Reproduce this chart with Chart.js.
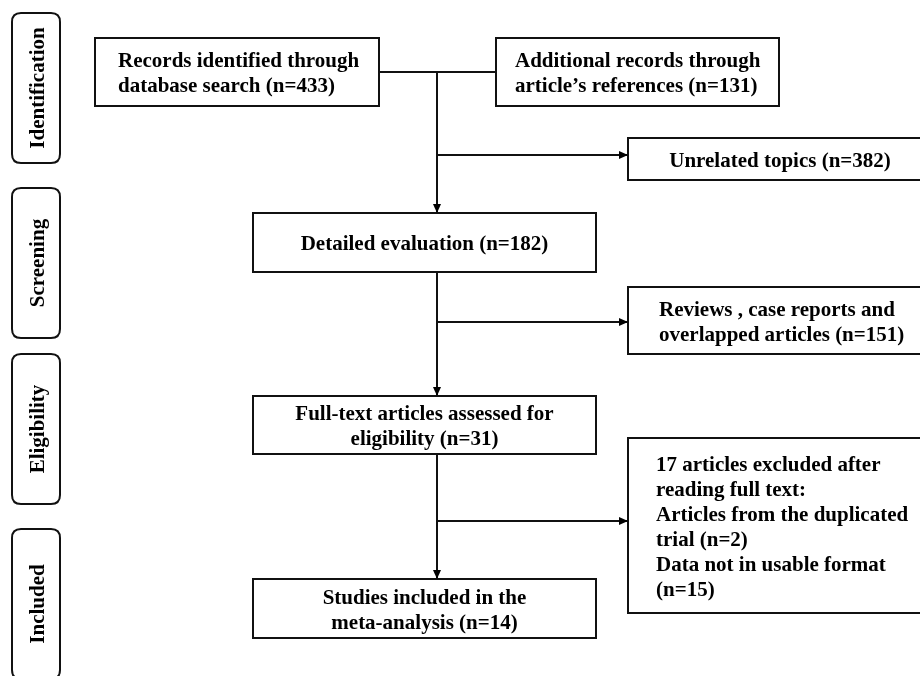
<!DOCTYPE html>
<html>
<head>
<meta charset="utf-8">
<title>Study selection flow</title>
<script src="https://cdn.jsdelivr.net/npm/chart.js@4"></script>
<style>
  html, body { margin: 0; padding: 0; background: #fff; }
  #flow { display: block; }
</style>
</head>
<body>
<canvas id="flow" width="920" height="676"></canvas>
<script>
// stage names down the left side
const stageLabels = ["Identification", "Screening", "Eligibility", "Included"];

// record counts shown in each box
const nodeKeys = ["database", "references", "unrelated", "screened", "reviews", "fullText", "excluded", "included"];
const nodeCounts = [433, 131, 382, 182, 151, 31, 17, 14];

// reasons for exclusion after full text
const exclusionReasons = ["Articles from the duplicated trial", "Data not in usable format"];
const exclusionCounts = [2, 15];

const count = (key) => nodeCounts[nodeKeys.indexOf(key)];

const nodeLines = {
  database: ["Records identified through", `database search (n=${count("database")})`],
  references: ["Additional records through", `article\u2019s references (n=${count("references")})`],
  unrelated: [`Unrelated topics (n=${count("unrelated")})`],
  screened: [`Detailed evaluation (n=${count("screened")})`],
  reviews: ["Reviews , case reports and", `overlapped articles (n=${count("reviews")})`],
  fullText: ["Full-text articles assessed for", `eligibility (n=${count("fullText")})`],
  excluded: [
    `${count("excluded")} articles excluded after`,
    "reading full text:",
    "Articles from the duplicated",
    `trial (n=${exclusionCounts[0]})`,
    "Data not in usable format",
    `(n=${exclusionCounts[1]})`
  ],
  included: ["Studies included in the", `meta-analysis (n=${count("included")})`]
};

// layout in chart units (x 0..920, y 0..676 top-down)
const boxLayout = {
  database:   { x0: 95,  y0: 38,  x1: 379, y1: 106, align: "left", tx: 118 },
  references: { x0: 496, y0: 38,  x1: 779, y1: 106, align: "left", tx: 515 },
  unrelated:  { x0: 628, y0: 138, x1: 940, y1: 180, align: "center", tx: 780 },
  screened:   { x0: 253, y0: 213, x1: 596, y1: 272, align: "center", tx: 424.5 },
  reviews:    { x0: 628, y0: 287, x1: 940, y1: 354, align: "left", tx: 659 },
  fullText:   { x0: 253, y0: 396, x1: 596, y1: 454, align: "center", tx: 424.5 },
  excluded:   { x0: 628, y0: 438, x1: 940, y1: 613, align: "left", tx: 656 },
  included:   { x0: 253, y0: 579, x1: 596, y1: 638, align: "center", tx: 424.5 }
};
const stageLayout = [
  { x0: 12, y0: 13,  x1: 60, y1: 163 },
  { x0: 12, y0: 188, x1: 60, y1: 338 },
  { x0: 12, y0: 354, x1: 60, y1: 504 },
  { x0: 12, y0: 529, x1: 60, y1: 679 }
];
const spineX = 437;
const branches = [
  { y: 155, to: "unrelated" },
  { y: 322, to: "reviews" },
  { y: 521, to: "excluded" }
];

const FONT = "bold 21px 'Liberation Serif', 'Times New Roman', serif";
const LINE_H = 25;
const INK = "#111";

function roundRect(ctx, x, y, w, h, r) {
  ctx.beginPath();
  ctx.moveTo(x + r, y);
  ctx.lineTo(x + w - r, y);
  ctx.quadraticCurveTo(x + w, y, x + w, y + r);
  ctx.lineTo(x + w, y + h - r);
  ctx.quadraticCurveTo(x + w, y + h, x + w - r, y + h);
  ctx.lineTo(x + r, y + h);
  ctx.quadraticCurveTo(x, y + h, x, y + h - r);
  ctx.lineTo(x, y + r);
  ctx.quadraticCurveTo(x, y, x + r, y);
  ctx.closePath();
}

const flowPlugin = {
  id: "flowDiagram",
  afterDraw(chart) {
    const ctx = chart.ctx;
    const sx = chart.scales.x, sy = chart.scales.y;
    const px = (v) => sx.getPixelForValue(v);
    const py = (v) => sy.getPixelForValue(v);

    ctx.save();
    ctx.strokeStyle = INK;
    ctx.fillStyle = "#000";
    ctx.lineWidth = 2;
    ctx.font = FONT;

    const line = (x0, y0, x1, y1) => {
      ctx.beginPath();
      ctx.moveTo(px(x0), py(y0));
      ctx.lineTo(px(x1), py(y1));
      ctx.stroke();
    };
    const arrowHead = (x, y, dir) => {
      const tx = px(x), ty = py(y);
      ctx.beginPath();
      if (dir === "down") {
        ctx.moveTo(tx, ty);
        ctx.lineTo(tx - 4, ty - 9);
        ctx.lineTo(tx + 4, ty - 9);
      } else {
        ctx.moveTo(tx, ty);
        ctx.lineTo(tx - 9, ty - 4);
        ctx.lineTo(tx - 9, ty + 4);
      }
      ctx.closePath();
      ctx.fill();
    };

    // stage labels
    stageLabels.forEach((label, i) => {
      const s = stageLayout[i];
      roundRect(ctx, px(s.x0), py(s.y0), px(s.x1) - px(s.x0), py(s.y1) - py(s.y0), 9);
      ctx.stroke();
      ctx.save();
      ctx.translate(px(44), py((s.y0 + s.y1) / 2));
      ctx.rotate(-Math.PI / 2);
      ctx.textAlign = "center";
      ctx.textBaseline = "alphabetic";
      ctx.fillText(label, 0, 0);
      ctx.restore();
    });

    // boxes and their text
    nodeKeys.forEach((key) => {
      const b = boxLayout[key];
      ctx.strokeRect(px(b.x0), py(b.y0), px(b.x1) - px(b.x0), py(b.y1) - py(b.y0));
      const lines = nodeLines[key];
      const mid = (b.y0 + b.y1) / 2;
      ctx.textAlign = b.align;
      ctx.textBaseline = "alphabetic";
      lines.forEach((t, j) => {
        const cy = mid + (j - (lines.length - 1) / 2) * LINE_H;
        ctx.fillText(t, px(b.tx), py(cy + 7.5));
      });
    });

    // connectors
    const db = boxLayout.database, ref = boxLayout.references;
    const mergeY = (db.y0 + db.y1) / 2;
    line(db.x1, mergeY, ref.x0, mergeY);
    line(spineX, mergeY, spineX, boxLayout.screened.y0);
    arrowHead(spineX, boxLayout.screened.y0, "down");
    line(spineX, boxLayout.screened.y1, spineX, boxLayout.fullText.y0);
    arrowHead(spineX, boxLayout.fullText.y0, "down");
    line(spineX, boxLayout.fullText.y1, spineX, boxLayout.included.y0);
    arrowHead(spineX, boxLayout.included.y0, "down");
    branches.forEach((br) => {
      const target = boxLayout[br.to].x0;
      line(spineX, br.y, target, br.y);
      arrowHead(target, br.y, "right");
    });

    ctx.restore();
  }
};

new Chart(document.getElementById("flow"), {
  type: "scatter",
  data: { datasets: [] },
  options: {
    responsive: false,
    animation: false,
    devicePixelRatio: 1,
    layout: { padding: 0 },
    plugins: { legend: { display: false }, tooltip: { enabled: false } },
    scales: {
      x: { type: "linear", min: 0, max: 920, display: false },
      y: { type: "linear", min: 0, max: 676, reverse: true, display: false }
    }
  },
  plugins: [flowPlugin]
});
</script>
</body>
</html>
